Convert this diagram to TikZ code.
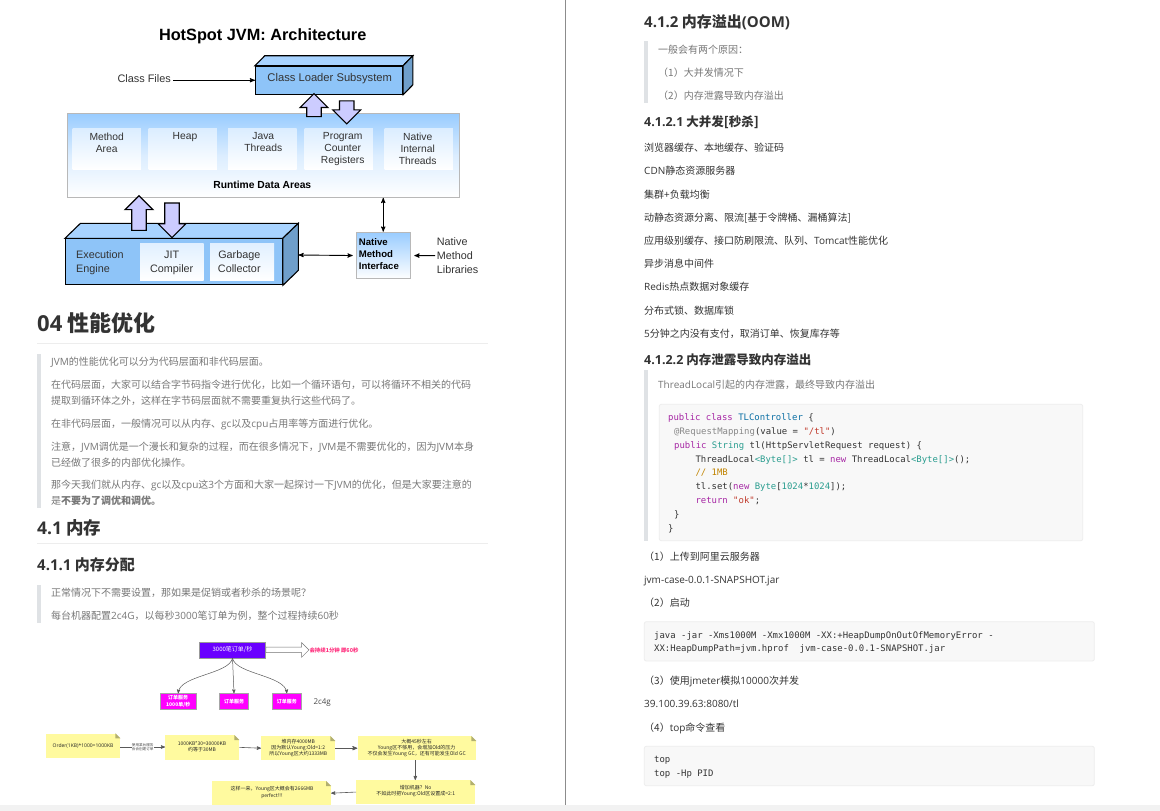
\documentclass[tikz,border=0pt]{standalone}
\usepackage{fontspec}
\setmainfont{Noto Sans CJK SC}
\newfontfamily\en{Open Sans}
\newfontfamily\arial{Liberation Sans}
\newfontfamily\mono{DejaVu Sans Mono}
\usetikzlibrary{arrows,shapes.arrows,calc}

\definecolor{jvmfront}{HTML}{8EC4F8}
\definecolor{jvmtop}{HTML}{A8D3FF}
\definecolor{jvmside}{HTML}{6F9FCB}
\definecolor{jvmsky}{HTML}{99CCFF}
\definecolor{lilac}{HTML}{CCCCFF}
\definecolor{quotebar}{HTML}{DFE2E5}
\definecolor{quotetext}{HTML}{777777}
\definecolor{bodytext}{HTML}{333333}
\definecolor{codebg}{HTML}{F8F8F8}
\definecolor{noteyellow}{HTML}{FFFA9F}
\definecolor{ordersviolet}{HTML}{6A00FF}
\definecolor{servicepink}{HTML}{FF00FF}
\definecolor{lastingpink}{HTML}{FF2F7E}
\definecolor{kwcol}{HTML}{A626A4}
\definecolor{tycol}{HTML}{2A9D8F}
\definecolor{clscol}{HTML}{0B6FA4}
\definecolor{strcol}{HTML}{C0392B}
\definecolor{cmtcol}{HTML}{C18401}
\definecolor{metacol}{HTML}{888888}

\newcommand{\kw}[1]{\textcolor{kwcol}{#1}}
\newcommand{\ty}[1]{\textcolor{tycol}{#1}}
\newcommand{\cls}[1]{\textcolor{clscol}{#1}}
\newcommand{\str}[1]{\textcolor{strcol}{#1}}
\newcommand{\lt}[1]{{\en #1}}

\tikzset{
 pagetext/.style={anchor=west,inner sep=0pt,text height=9pt,text depth=1.4pt,font=\fontsize{10}{12}\selectfont},
 quoteline/.style={pagetext,text=quotetext},
 bodyline/.style={pagetext,text=bodytext},
 headone/.style={pagetext,text=bodytext,text height=16.4pt,text depth=0pt,font=\fontsize{22}{24}\bfseries\selectfont},
 headtwo/.style={pagetext,text=bodytext,text height=13.2pt,text depth=0pt,font=\fontsize{17.5}{20}\bfseries\selectfont},
 headthree/.style={pagetext,text=bodytext,text height=11.4pt,text depth=0pt,font=\fontsize{15}{18}\bfseries\selectfont},
 headfour/.style={pagetext,text=bodytext,text height=9.5pt,text depth=0pt,font=\fontsize{12.5}{15}\bfseries\selectfont},
 codeline/.style={anchor=west,inner sep=0pt,text=bodytext,text height=8pt,text depth=1pt,font=\fontsize{8.95}{11}\mono},
 codebox/.style={draw=black!7,fill=codebg,rounded corners=2pt,line width=0.8pt},
 jvmtext/.style={text=bodytext,inner sep=0pt,align=center,font=\fontsize{10.3}{12}\arial},
 jvmfacet/.style={draw=black,line width=1.1pt},
 jvmblock/.style={jvmfacet,fill=jvmfront,anchor=north west,inner sep=0pt},
 areabox/.style={anchor=north west,inner sep=0pt,minimum width=68.4pt,minimum height=41pt,top color=jvmsky!35,bottom color=white},
 thickarrow/.style={draw=black,line width=1.1pt,fill=lilac,shape=single arrow,inner xsep=0pt,inner ysep=6.7pt,minimum width=26.7pt,single arrow head extend=6.7pt},
 thinconn/.style={line width=0.9pt,black},
 smallconn/.style={line width=0.5pt,black!65,-stealth'},
 orderbox/.style={draw=black!35,anchor=north west,inner sep=0pt,text=white,align=center,font=\fontsize{5}{6.3}\bfseries\selectfont},
 noteline/.style={inner sep=0pt,text=black!85,align=center,font=\fontsize{5}{6.2}\selectfont},
 note/.style={fill=noteyellow,anchor=north west,inner sep=0pt},
}

% folded corner of a yellow note
\newcommand{\notefold}[1]{
 \fill[white] (#1.north east) -- ++(-5,0) -- ++(5,5) -- cycle;
 \fill[noteyellow!70!black] (#1.north east) ++(-5,0) -- ++(5,5) -- ++(-5,0) -- cycle;
}
% top and side of a 3d block
\newcommand{\blockfaces}[3]{
 \draw[jvmfacet,fill=jvmtop] (#1.north west) -- ++(#2,-#3) -- ($(#1.north east)+(#2,-#3)$) -- (#1.north east) -- cycle;
 \draw[jvmfacet,fill=jvmside] (#1.north east) -- ++(#2,-#3) -- ($(#1.south east)+(#2,-#3)$) -- (#1.south east) -- cycle;
}

\begin{document}
\begin{tikzpicture}[x=1pt,y=-1pt]
\useasboundingbox (0,0) rectangle (1160,811);
\fill[white] (0,0) rectangle (1160,811);

% jvm architecture
\node[inner sep=0pt,font=\fontsize{16.3}{18}\bfseries\arial] (jvmtitle) at (262.7,36) {HotSpot JVM: Architecture};
\node[jvmblock,minimum width=147pt,minimum height=28pt] (loader) at (255,65.7) {};
\blockfaces{loader}{9.8}{10}
\node[jvmtext,font=\fontsize{11.2}{12}\arial] (loadertext) at (329.7,79) {Class Loader Subsystem};
\node[jvmtext,font=\fontsize{10.9}{12}\arial,anchor=east] (classfiles) at (171,79) {Class Files};
\draw[thinconn,-stealth'] (classfiles.east |- loader.west) ++(2,0) -- (loader.west);

\node[anchor=north west,inner sep=0pt,draw=black!28,line width=1.1pt,minimum width=392pt,minimum height=83.7pt,top color=jvmsky,bottom color=white,middle color=jvmsky!35] (rda) at (66.7,113) {};
\node[areabox] (method) at (72.3,128.3) {};
\node[areabox] (heap) at (148.3,128.3) {};
\node[areabox] (threads) at (228,128.3) {};
\node[areabox] (counter) at (304.3,128.3) {};
\node[areabox] (internal) at (384.3,128.3) {};
\node[jvmtext,anchor=north] (methodtext) at (106.7,132.5) {Method\\Area};
\node[jvmtext,anchor=north] (heaptext) at (185,132.5) {Heap};
\node[jvmtext,anchor=north] (threadstext) at (263.3,132.5) {Java\\Threads};
\node[jvmtext,anchor=north] (countertext) at (342.7,132.5) {Program\\Counter\\Registers};
\node[jvmtext,anchor=north] (internaltext) at (417.7,132.5) {Native\\Internal\\Threads};
\node[jvmtext,font=\fontsize{10.3}{12}\bfseries\arial,text=black] (rdatext) at (262.3,185.3) {Runtime Data Areas};

\node[thickarrow,rotate=90,minimum height=23pt] (loadup) at (314,108.7) {};
\node[thickarrow,rotate=-90,minimum height=23pt] (loaddown) at (346.7,108.7) {};

\node[jvmblock,minimum width=216.7pt,minimum height=46pt] (engine) at (65,238.3) {};
\blockfaces{engine}{15.5}{15}
\node[thickarrow,rotate=90,minimum height=34.7pt] (engineup) at (139,216.7) {};
\node[thickarrow,rotate=-90,minimum height=34.7pt] (enginedown) at (172,216.7) {};
\node[jvmtext,align=left,anchor=west,font=\fontsize{10.8}{14}\arial] (enginetext) at (76,262.3) {Execution\\Engine};
\node[anchor=north west,inner sep=0pt,minimum width=63.3pt,minimum height=36.7pt,top color=jvmsky!30,bottom color=white] (jit) at (140,243.3) {};
\node[anchor=north west,inner sep=0pt,minimum width=64pt,minimum height=36.7pt,top color=jvmsky!30,bottom color=white] (gc) at (210,243.3) {};
\node[jvmtext,font=\fontsize{10.8}{14}\arial] (jittext) at (171.7,263.3) {JIT\\Compiler};
\node[jvmtext,font=\fontsize{10.8}{14}\arial] (gctext) at (239.3,261.8) {Garbage\\Collector};

\node[anchor=north west,inner sep=0pt,draw=black!28,line width=1.1pt,minimum width=54pt,minimum height=46.6pt,top color=jvmsky,bottom color=white] (nmi) at (355.7,231.7) {};
\node[jvmtext,align=left,anchor=west,text=black,font=\fontsize{9.6}{12.2}\bfseries\arial] (nmitext) at (358.7,254) {Native\\Method\\Interface};
\node[jvmtext,align=left,anchor=west,font=\fontsize{10.8}{13.7}\arial] (nmilib) at (436.7,255.6) {Native\\Method\\Libraries};
\coordinate (engineside) at (298.5,255);
\draw[thinconn,stealth'-stealth'] (nmi.north) -- (nmi.north |- rda.south);
\draw[thinconn,stealth'-stealth',shorten >=3pt] (engineside) -- (nmi.west);
\draw[thinconn,-stealth',shorten >=3.5pt] (nmilib.west) ++(-1.5,0) -- (nmi.east);

% left column
\node[headone] (perf) at (37,323) {\lt{04} 性能优化};
\draw[black!7] (37,343.3) -- (488,343.3);
\fill[quotebar] (37.3,354) rectangle (41,507.7);
\node[quoteline] (perfa) at (51,361.7) {\lt{JVM}的性能优化可以分为代码层面和非代码层面。};
\node[quoteline] (perfb) at (51,384.7) {在代码层面，大家可以结合字节码指令进行优化，比如一个循环语句，可以将循环不相关的代码};
\node[quoteline] (perfc) at (51,400.3) {提取到循环体之外，这样在字节码层面就不需要重复执行这些代码了。};
\node[quoteline] (perfd) at (51,423.7) {在非代码层面，一般情况可以从内存、\lt{gc}以及\lt{cpu}占用率等方面进行优化。};
\node[quoteline] (perfe) at (51,446.7) {注意，\lt{JVM}调优是一个漫长和复杂的过程，而在很多情况下，\lt{JVM}是不需要优化的，因为\lt{JVM}本身};
\node[quoteline] (perff) at (51,462.7) {已经做了很多的内部优化操作。};
\node[quoteline] (perfg) at (51,484.7) {那今天我们就从内存、\lt{gc}以及\lt{cpu}这\lt{3}个方面和大家一起探讨一下\lt{JVM}的优化，但是大家要注意的};
\node[quoteline] (perfh) at (51,500.7) {是\textbf{不要为了调优和调优。}};
\node[headtwo] (mem) at (37,528) {\lt{4.1} 内存};
\draw[black!7] (37,543.3) -- (488,543.3);
\node[headthree] (alloc) at (37,565) {\lt{4.1.1} 内存分配};
\fill[quotebar] (37.3,585) rectangle (41,623.3);
\node[quoteline] (alloca) at (51,592.7) {正常情况下不需要设置，那如果是促销或者秒杀的场景呢？};
\node[quoteline] (allocb) at (51,616) {每台机器配置\lt{2c4G}，以每秒\lt{3000}笔订单为例，整个过程持续\lt{60}秒};

% orders
\node[orderbox,fill=ordersviolet,draw=black!40,minimum width=66pt,minimum height=16pt,font=\fontsize{6}{7}\selectfont] (orders) at (199.3,641.7) {3000笔订单/秒};
\node[shape=single arrow,draw=black!55,fill=white,line width=0.5pt,inner xsep=0pt,inner ysep=2.5pt,minimum width=14pt,minimum height=43pt,single arrow head extend=4.5pt,anchor=tail] (lasting) at (orders.east) {};
\node[inner sep=0pt,text=lastingpink,font=\fontsize{5.4}{6.5}\bfseries\selectfont] (lastingtext) at (334,650.7) {会持续1分钟 即60秒};
\node[orderbox,fill=servicepink,minimum width=36pt,minimum height=15.7pt] (svca) at (160,693.3) {订单服务\\1000单/秒};
\node[orderbox,fill=servicepink,minimum width=29pt,minimum height=15.7pt] (svcb) at (219.3,693.3) {订单服务};
\node[orderbox,fill=servicepink,minimum width=29.3pt,minimum height=15.7pt] (svcc) at (272,693.3) {订单服务};
\draw[smallconn] (orders.south) .. controls +(-3,16) and +(2,-18) .. (svca.north);
\draw[smallconn] (orders.south) -- (svcb.north);
\draw[smallconn] (orders.south) .. controls +(3,16) and +(-2,-18) .. (svcc.north);
\node[anchor=west,inner sep=0pt,text=black!70,font=\fontsize{8}{10}\en] (spec) at (313.3,702.7) {2c4g};

% notes
\node[note,minimum width=74pt,minimum height=24.7pt] (notea) at (46,733.3) {};
\node[note,minimum width=74pt,minimum height=24.3pt] (noteb) at (165,735) {};
\node[note,minimum width=74pt,minimum height=24pt] (notec) at (261,736) {};
\node[note,minimum width=118.7pt,minimum height=24pt] (noted) at (357.3,736) {};
\node[note,minimum width=119pt,minimum height=23.7pt] (notee) at (356,780) {};
\node[note,minimum width=118.7pt,minimum height=24pt] (notef) at (212,781) {};
\notefold{notea}
\notefold{noteb}
\notefold{notec}
\notefold{noted}
\notefold{notee}
\notefold{notef}
\node[noteline] (noteatext) at (83,745.7) {\lt{Order(1KB)*1000=1000KB}};
\node[noteline] (notebtext) at (202,747) {1000KB*30=30000KB\\约等于30MB};
\node[noteline] (notectext) at (298.3,748) {堆内存4000MB\\因为默认Young:Old=1:2\\所以Young区大约1333MB};
\node[noteline] (notedtext) at (416.7,748) {大概45秒左右\\Young区不够用，会增加Old的压力\\不仅会发生Young GC，还有可能发生Old GC};
\node[noteline] (noteetext) at (415.7,791.3) {增加机器？No\\不如此时把Young:Old区设置成=2:1};
\node[noteline] (noteftext) at (272,792.5) {这样一来，Young区大概会有2666MB\\perfect!!!};
\coordinate (noteaout) at (notea.east |- 0,747);
\coordinate (notebin) at (noteb.west |- 0,747);
\draw[smallconn,line width=0.6pt] (noteaout) -- (notebin) node[midway,fill=white,inner sep=0.3pt,text=black!70,align=center,font=\fontsize{3.6}{4.6}\selectfont] (usage) {使用某台服务\\会会创建订单};
\draw[smallconn,line width=0.6pt] (noteb.east) -- (notec.west);
\draw[smallconn,line width=0.8pt] (notec.east) -- (noted.west);
\draw[smallconn,line width=0.6pt] (noted.south -| 415.3,0) -- (notee.north -| 415.3,0);
\draw[smallconn,line width=0.6pt] (notee.west) -- (notef.east);

% right column
\node[headthree] (oom) at (644,21.7) {\lt{4.1.2} 内存溢出\lt{(OOM)}};
\fill[quotebar] (644,41) rectangle (648,102.7);
\node[quoteline] (ooma) at (658,50) {一般会有两个原因：};
\node[quoteline] (oomb) at (658,73) {（1）大并发情况下};
\node[quoteline] (oomc) at (658,96) {（2）内存泄露导致内存溢出};
\node[headfour] (conc) at (644,121.7) {\lt{4.1.2.1} 大并发[秒杀]};
\node[bodyline] (conca) at (644,147.7) {浏览器缓存、本地缓存、验证码};
\node[bodyline] (concb) at (644,170.7) {\lt{CDN}静态资源服务器};
\node[bodyline] (concc) at (644,195) {集群+负载均衡};
\node[bodyline] (concd) at (644,217.7) {动静态资源分离、限流[基于令牌桶、漏桶算法]};
\node[bodyline] (conce) at (644,240.7) {应用级别缓存、接口防刷限流、队列、\lt{Tomcat}性能优化};
\node[bodyline] (concf) at (644,264) {异步消息中间件};
\node[bodyline] (concg) at (644,286.7) {\lt{Redis}热点数据对象缓存};
\node[bodyline] (conch) at (644,310.7) {分布式锁、数据库锁};
\node[bodyline] (conci) at (644,333.7) {\lt{5}分钟之内没有支付，取消订单、恢复库存等};
\node[headfour] (leak) at (644,360) {\lt{4.1.2.2} 内存泄露导致内存溢出};
\fill[quotebar] (644,370) rectangle (648,540.7);
\node[quoteline] (leaka) at (658,385) {\lt{ThreadLocal}引起的内存泄露，最终导致内存溢出};
\draw[codebox] (659.3,404.3) rectangle (1082.7,540.7);
\node[codeline] (codea) at (668,417) {\kw{public class} \cls{TLController} \{};
\node[codeline] (codeb) at (674,431) {\textcolor{metacol}{@RequestMapping}(value = \str{"/tl"})};
\node[codeline] (codec) at (674,445) {\kw{public} \ty{String} tl(HttpServletRequest request) \{};
\node[codeline] (coded) at (695.3,458.7) {ThreadLocal\ty{<Byte[]>} tl = \kw{new} ThreadLocal\ty{<Byte[]>}();};
\node[codeline] (codee) at (695.3,472.3) {\textcolor{cmtcol}{// 1MB}};
\node[codeline] (codef) at (695.3,486.3) {tl.set(\kw{new} \ty{Byte}[\ty{1024}*\ty{1024}]);};
\node[codeline] (codeg) at (695.3,500) {\kw{return} \str{"ok"};};
\node[codeline] (codeh) at (674,514) {\}};
\node[codeline] (codei) at (668,528) {\}};
\node[bodyline] (stepa) at (644,556.7) {（1）上传到阿里云服务器};
\node[bodyline] (stepb) at (644,579.3) {\lt{jvm-case-0.0.1-SNAPSHOT.jar}};
\node[bodyline] (stepc) at (644,603) {（2）启动};
\draw[codebox] (644.3,621.7) rectangle (1094.3,661);
\node[codeline] (runa) at (654,635) {java -jar -Xms1000M -Xmx1000M -XX:+HeapDumpOnOutOfMemoryError -};
\node[codeline] (runb) at (654,648.3) {XX:HeapDumpPath=jvm.hprof\ \ jvm-case-0.0.1-SNAPSHOT.jar};
\node[bodyline] (stepd) at (644,680.7) {（3）使用\lt{jmeter}模拟\lt{10000}次并发};
\node[bodyline] (stepe) at (644,703.7) {\lt{39.100.39.63:8080/tl}};
\node[bodyline] (stepf) at (644,727.7) {（4）\lt{top}命令查看};
\draw[codebox] (644.3,746.3) rectangle (1094.3,785.7);
\node[codeline] (topa) at (654,759) {top};
\node[codeline] (topb) at (654,773) {top -Hp PID};

% divider and bottom strip
\draw[black!45,line width=0.8pt] (565.5,0) -- (565.5,805);
\fill[black!5] (0,805) rectangle (1160,811);
\end{tikzpicture}
\end{document}
